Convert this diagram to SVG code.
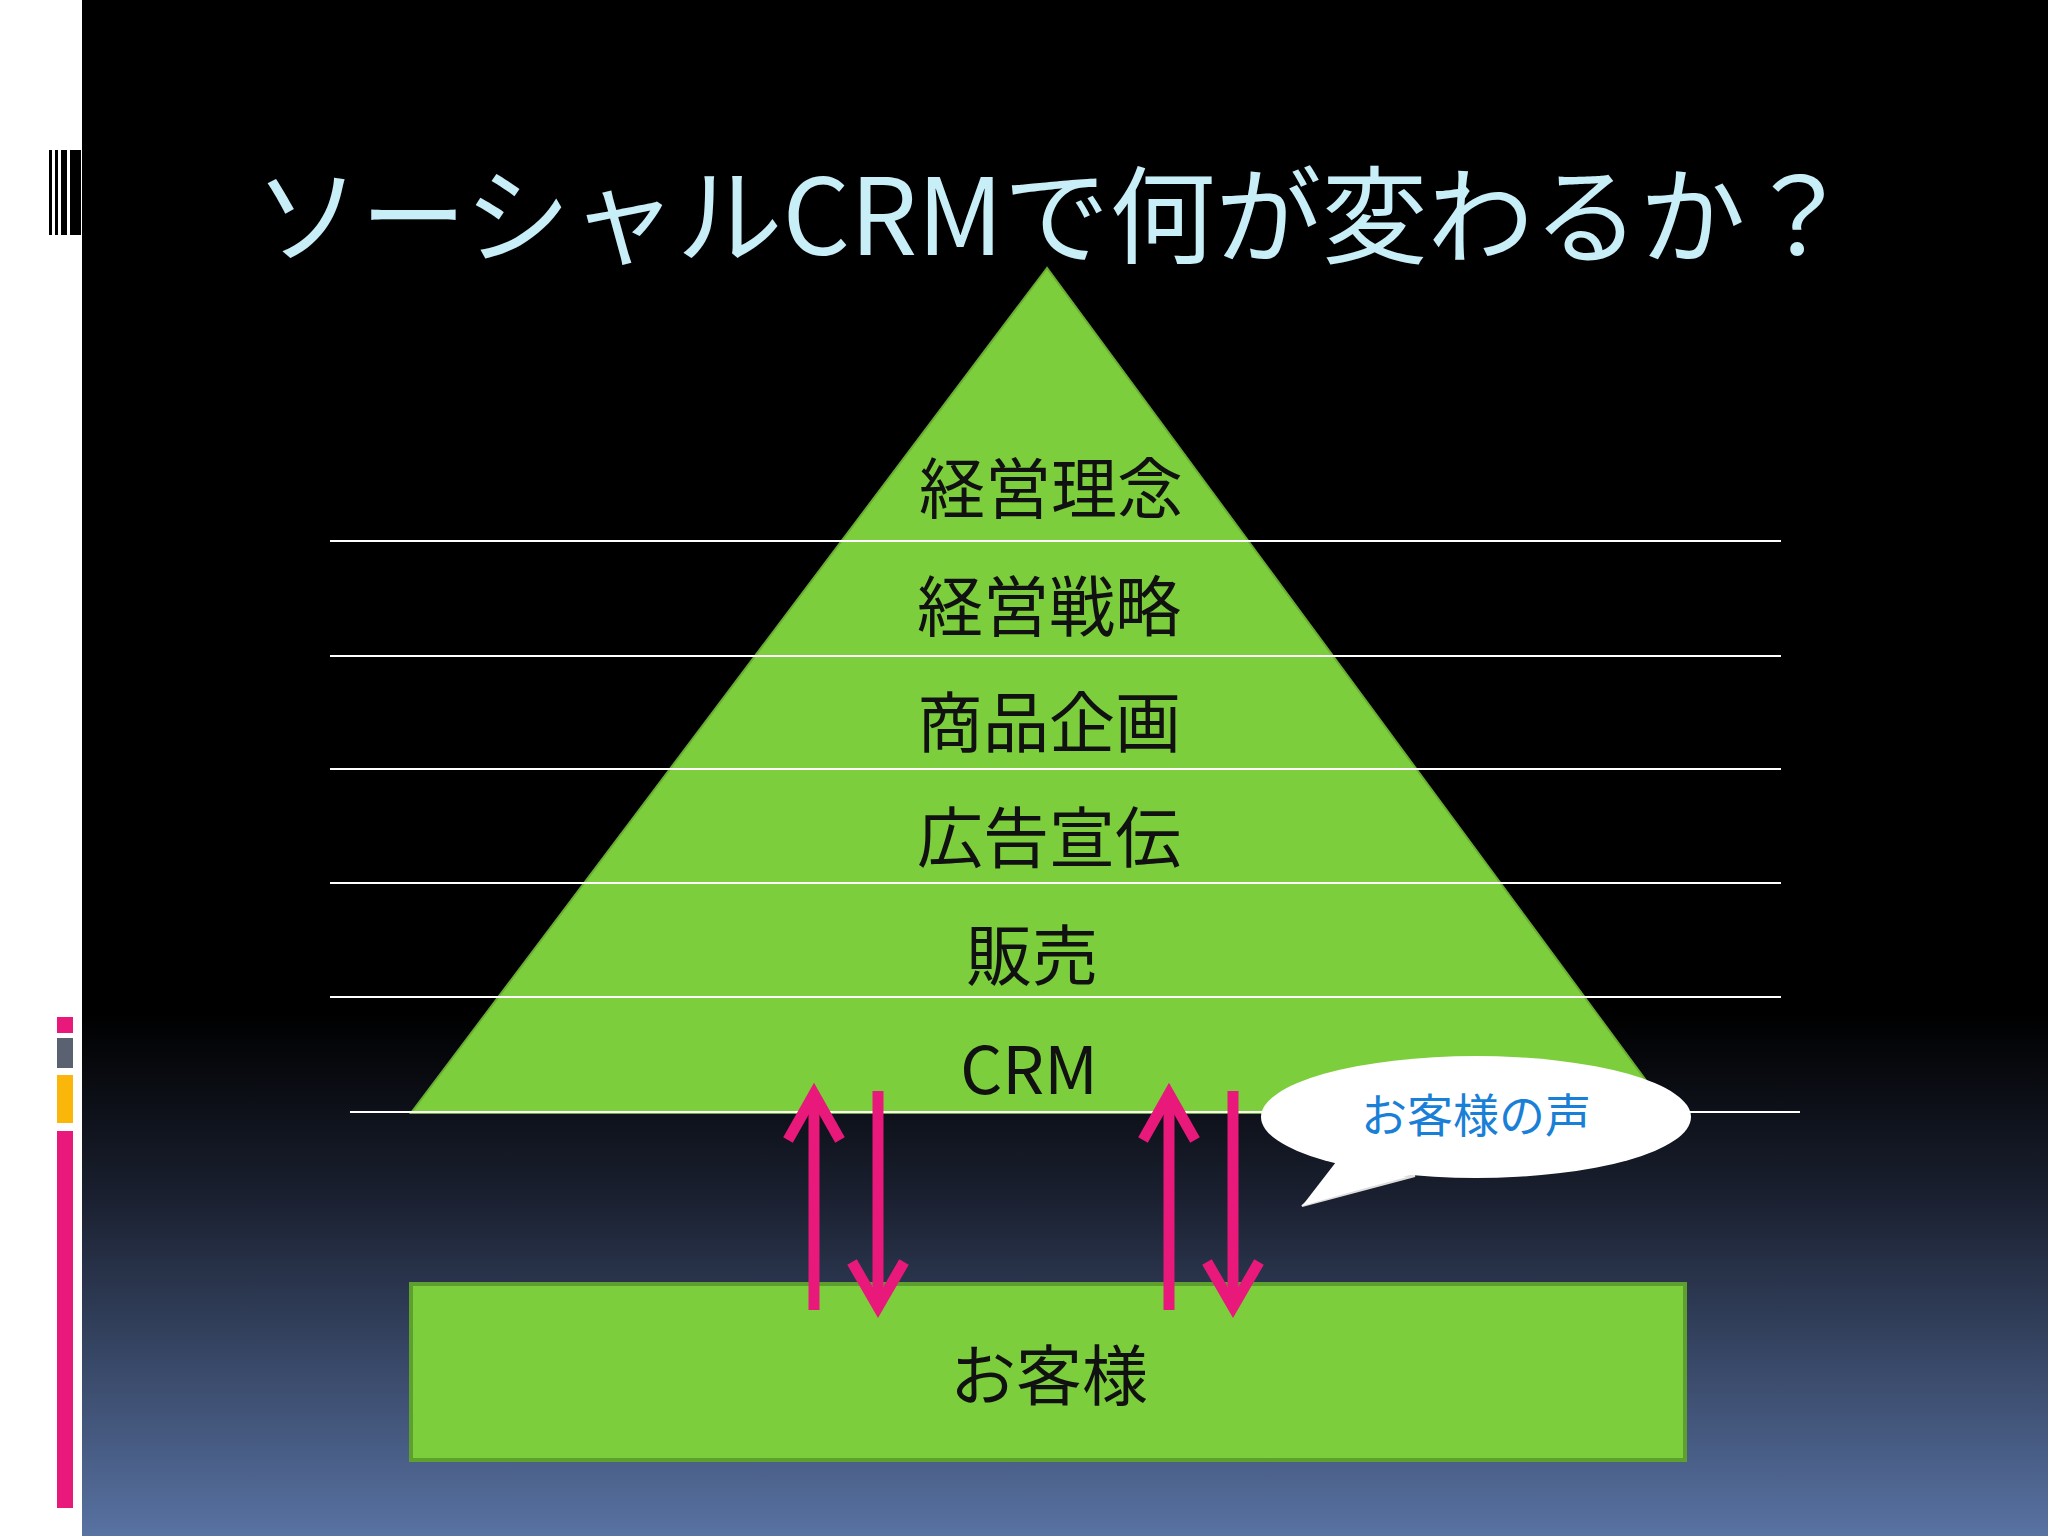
<svg xmlns="http://www.w3.org/2000/svg" width="2048" height="1536" viewBox="0 0 2048 1536">
<defs>
<linearGradient id="bg" x1="0" y1="0" x2="0" y2="1">
<stop offset="0" stop-color="#000"/><stop offset="0.66" stop-color="#000"/><stop offset="0.78" stop-color="#1a2030"/><stop offset="1" stop-color="#5872a2"/>
</linearGradient>
<marker id="ah" viewBox="0 0 20 20" refX="10" refY="4" markerWidth="6" markerHeight="6" orient="auto-start-reverse" markerUnits="userSpaceOnUse">
</marker>
<style>
.lbl{font-family:"Noto Sans CJK JP","Noto Sans",sans-serif;font-size:66px;fill:#111;text-anchor:middle}
.hl{stroke:#fff;stroke-width:2}
.ar{stroke:#e8197a;stroke-width:11;fill:none;stroke-linecap:butt}
</style>
</defs>
<rect width="2048" height="1536" fill="url(#bg)"/>
<rect width="82" height="1536" fill="#fff"/>
<g fill="#000"><rect x="49" y="150" width="3" height="85"/><rect x="55" y="150" width="3" height="85"/><rect x="61" y="150" width="6" height="85"/><rect x="70" y="150" width="11" height="85"/></g>
<rect x="57" y="1017" width="16" height="16" fill="#e8197a"/>
<rect x="57" y="1038" width="16" height="30" fill="#5a6272"/>
<rect x="57" y="1075" width="16" height="48" fill="#fbb60a"/>
<rect x="57" y="1131" width="16" height="377" fill="#e8197a"/>
<text x="1053" y="255" font-family="'Noto Sans CJK JP','Noto Sans',sans-serif" font-size="106" fill="#c8eef8" text-anchor="middle">ソーシャルCRMで何が変わるか？</text>
<g id="pyramid"><polygon points="1047,268 411,1113 1670,1113" fill="#7dce3c" stroke="#6aad34" stroke-width="2"/></g>
<g id="lines">
<line class="hl" x1="330" y1="541" x2="1781" y2="541"/>
<line class="hl" x1="330" y1="656" x2="1781" y2="656"/>
<line class="hl" x1="330" y1="769" x2="1781" y2="769"/>
<line class="hl" x1="330" y1="883" x2="1781" y2="883"/>
<line class="hl" x1="330" y1="997" x2="1781" y2="997"/>
<line class="hl" x1="350" y1="1112" x2="1800" y2="1112"/>
</g>
<g id="labels">
<text class="lbl" x="1051" y="513">経営理念</text>
<text class="lbl" x="1049" y="631">経営戦略</text>
<text class="lbl" x="1049" y="747">商品企画</text>
<text class="lbl" x="1049" y="862">広告宣伝</text>
<text class="lbl" x="1032" y="980">販売</text>
<text class="lbl" x="1029" y="1094" font-family="'Noto Sans',sans-serif">CRM</text>
</g>
<g id="customer"><rect x="411" y="1284" width="1274" height="176" fill="#7dce3c" stroke="#5ea02e" stroke-width="4"/>
<text class="lbl" x="1049" y="1400" font-size="80">お客様</text></g>
<g id="connectors">
<line class="ar" x1="814" y1="1310" x2="814" y2="1094"/><polyline class="ar" points="788,1140 814,1094 840,1140"/>
<line class="ar" x1="878" y1="1091" x2="878" y2="1307"/><polyline class="ar" points="852,1262 878,1307 904,1262"/>
<line class="ar" x1="1169" y1="1310" x2="1169" y2="1094"/><polyline class="ar" points="1143,1140 1169,1094 1195,1140"/>
<line class="ar" x1="1233" y1="1091" x2="1233" y2="1307"/><polyline class="ar" points="1207,1262 1233,1307 1259,1262"/>
</g>
<g id="callout">
<path d="M1340,1175 L1302,1206 L1415,1176 Z" fill="#fff" stroke="#ddd" stroke-width="2"/>
<ellipse cx="1476" cy="1117" rx="215" ry="61" fill="#fff"/>
<path d="M1336,1162 L1302,1206 L1420,1172" fill="#fff"/>
<text x="1476" y="1132" font-family="'Noto Sans CJK JP',sans-serif" font-size="46" fill="#1a7fd6" text-anchor="middle">お客様の声</text>
</g>
</svg>
